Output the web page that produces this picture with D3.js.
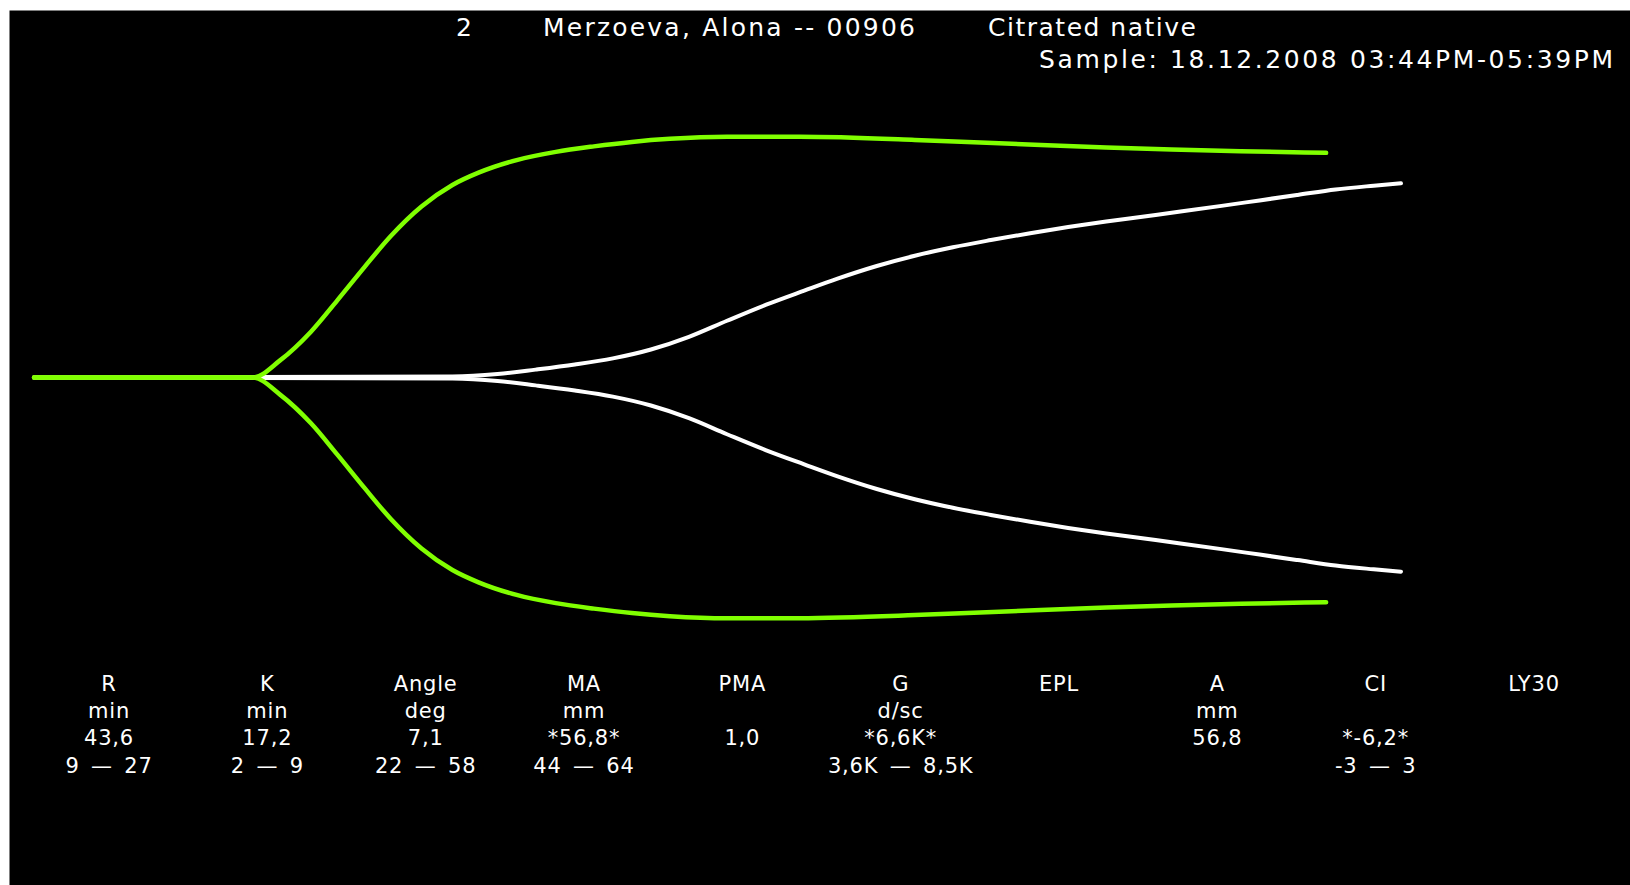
<!DOCTYPE html>
<html>
<head>
<meta charset="utf-8">
<script src="https://cdn.jsdelivr.net/npm/d3@7/dist/d3.min.js"></script>
<style>
  html, body { margin: 0; padding: 0; background: #ffffff; }
  svg { display: block; }
  text { font-family: "DejaVu Sans", Verdana, sans-serif; fill: #ffffff; }
</style>
</head>
<body>
<svg id="chart" width="1630" height="885"></svg>
<script>
// ---- Header texts ----
const sampleNo = "2";
const patient = "Merzoeva, Alona -- 00906";
const sampleType = "Citrated native";
const sampleTime = "Sample: 18.12.2008 03:44PM-05:39PM";

// ---- Trace data: time (min) and amplitude (mm) ----
const totalMinutes = 115;
const maxHalfAmp = 40;

const patientTime = [0, 35.2, 39.0, 42.2, 45.5, 48.7, 51.9, 55.1, 58.3, 61.6, 64.8, 67.6, 70.9, 74.1, 77.3, 80.5, 83.8, 87.0, 90.2, 93.4, 96.6, 99.9, 103.1, 106.3, 109.5, 112.7, 115.0];
const patientAmp  = [0, 0.3, 1.0, 2.3, 3.8, 5.6, 8.2, 11.9, 16.6, 21.3, 25.4, 28.9, 32.6, 35.6, 38.1, 40.2, 42.2, 44.0, 45.6, 47.1, 48.6, 50.2, 51.8, 53.4, 55.0, 56.1, 56.8];

const normalTime = [0, 18.4, 20.7, 23.3, 25.5, 27.8, 30.0, 32.6, 35.2, 37.4, 40.6, 43.9, 47.1, 50.3, 53.5, 58.3, 64.4, 74.1, 79.6, 84.7, 90.2, 95.7, 101.5, 108.7];
const normalAmp  = [0, 0, 5.0, 13.4, 22.5, 32.3, 41.3, 50.0, 56.3, 59.9, 63.6, 66.0, 67.6, 68.9, 69.8, 70.4, 70.4, 69.5, 68.7, 68.0, 67.3, 66.7, 66.2, 65.7];

// ---- Parameter table ----
const paramNames  = ["R", "K", "Angle", "MA", "PMA", "G", "EPL", "A", "CI", "LY30"];
const paramUnits  = ["min", "min", "deg", "mm", "", "d/sc", "", "mm", "", ""];
const paramValues = ["43,6", "17,2", "7,1", "*56,8*", "1,0", "*6,6K*", "", "56,8", "*-6,2*", ""];
const paramRanges = ["9 \u2014 27", "2 \u2014 9", "22 \u2014 58", "44 \u2014 64", "", "3,6K \u2014 8,5K", "", "", "-3 \u2014 3", ""];

// ---- Drawing ----
const svg = d3.select("#chart");

svg.append("rect")
  .attr("x", 9.5).attr("y", 10.5)
  .attr("width", 1630 - 9.5).attr("height", 885 - 10.5)
  .attr("fill", "#000000");

const x = d3.scaleLinear().domain([0, totalMinutes]).range([34, 1401]);
const y = d3.scaleLinear().domain([-maxHalfAmp, maxHalfAmp]).range([377.5 + maxHalfAmp * 6.838, 377.5 - maxHalfAmp * 6.838]);

function traceLine(sign) {
  return d3.line()
    .x(d => x(d.t))
    .y(d => y(sign * d.a / 2))
    .curve(d3.curveMonotoneX);
}

const patientData = patientTime.map((t, i) => ({ t, a: patientAmp[i] }));
const normalData = normalTime.map((t, i) => ({ t, a: normalAmp[i] }));

const traces = svg.append("g");
[1, -1].forEach(s => {
  traces.append("path")
    .datum(patientData)
    .attr("d", traceLine(s))
    .attr("fill", "none")
    .attr("stroke", "#ffffff")
    .attr("stroke-width", 4)
    .attr("stroke-linecap", "round")
    .attr("stroke-linejoin", "round");
});
[1, -1].forEach(s => {
  traces.append("path")
    .datum(normalData)
    .attr("d", traceLine(s))
    .attr("fill", "none")
    .attr("stroke", "#80ff00")
    .attr("stroke-width", 4.5)
    .attr("stroke-linecap", "round")
    .attr("stroke-linejoin", "round");
});

// Header
const header = svg.append("g").style("font-size", "25px");
header.append("text").attr("x", 456).attr("y", 35.5).text(sampleNo);
header.append("text").attr("x", 543).attr("y", 35.5)
  .attr("textLength", 372).attr("lengthAdjust", "spacing").text(patient);
header.append("text").attr("x", 988).attr("y", 35.5)
  .attr("textLength", 208).attr("lengthAdjust", "spacing").text(sampleType);
header.append("text").attr("x", 1039).attr("y", 67.5)
  .attr("textLength", 574).attr("lengthAdjust", "spacing").text(sampleTime);

// Parameter table
const col = d3.scalePoint().domain(paramNames).range([109, 1534]);
const rows = [paramNames, paramUnits, paramValues, paramRanges];
const rowBase = [691, 718, 745, 772.5];
const table = svg.append("g").style("font-size", "21px")
  .style("letter-spacing", "0.8px").attr("text-anchor", "middle");
rows.forEach((row, r) => {
  table.selectAll(null)
    .data(row.map((v, i) => ({ v, name: paramNames[i] })))
    .enter().append("text")
    .attr("x", d => col(d.name))
    .attr("y", rowBase[r])
    .style("word-spacing", r === 3 ? "4px" : null)
    .text(d => d.v);
});
</script>
</body>
</html>
